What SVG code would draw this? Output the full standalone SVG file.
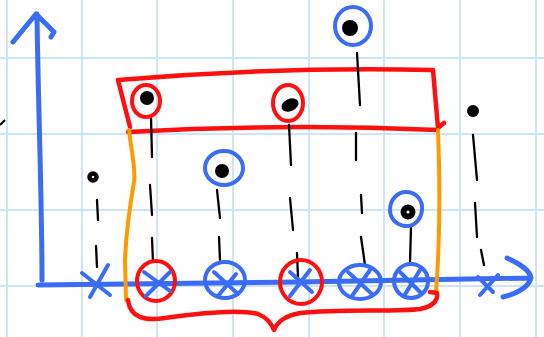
<svg xmlns="http://www.w3.org/2000/svg" width="544" height="337" viewBox="0 0 544 337">
<style>
.grid line{stroke:#cfe5f5;stroke-width:2}
.ax{fill:none;stroke:#3a6cf5;stroke-width:5;stroke-linecap:round;stroke-linejoin:round}
.bc{fill:none;stroke:#3a6cf5;stroke-width:4}
.rc{fill:none;stroke:#ff1010;stroke-width:4}
.bx{stroke:#3a6cf5;stroke-width:4;stroke-linecap:round}
.dot{fill:#000}
.dash{stroke:#000;stroke-width:2.3;stroke-linecap:round;fill:none}
.red{fill:none;stroke:#ff1010;stroke-width:4.5;stroke-linecap:round;stroke-linejoin:round}
.or{fill:none;stroke:#ff9a00;stroke-width:4;stroke-linecap:round}
</style>
<rect width="544" height="337" fill="#fff"/>
<g class="grid">
<line x1="7" y1="0" x2="7" y2="337"/><line x1="82" y1="0" x2="82" y2="337"/><line x1="157" y1="0" x2="157" y2="337"/><line x1="233" y1="0" x2="233" y2="337"/><line x1="309" y1="0" x2="309" y2="337"/><line x1="384" y1="0" x2="384" y2="337"/><line x1="460" y1="0" x2="460" y2="337"/><line x1="536" y1="0" x2="536" y2="337"/>
<line x1="0" y1="58" x2="544" y2="58"/><line x1="0" y1="134" x2="544" y2="134"/><line x1="0" y1="210" x2="544" y2="210"/><line x1="0" y1="286" x2="544" y2="286"/>
</g>
<path d="M0,125 L5,120" stroke="#000" stroke-width="2" fill="none"/>
<g id="axes">
<path class="ax" d="M42,280 C42,200 38,100 37,14 M13,42 L36,14 L54,32 L51,37"/>
<path class="ax" d="M38,285 L300,282 L531,278 M507,258 C520,264 530,270 531,278 C528,288 515,294 503,297"/>
</g>
<g id="group-box">
<path class="red" d="M118,80 C200,73 300,67 433,70 L438,128 L444,123 M438,130 C300,124 200,128 128,132 M118,80 L130,127"/>
<path class="or" d="M129,130 C131,150 136,168 134,182 C130,205 126,235 125,260 L126,300"/>
<path class="or" d="M438,130 C440,180 440,240 436,292"/>
<path class="red" d="M128,300 C130,318 145,321 165,318 C200,313 240,309 258,314 C268,318 272,325 274,330 C278,321 285,316 300,313 C340,309 400,312 420,309 C436,306 438,298 437,293 L430,292"/>
</g>
<g id="connectors">
<path class="dash" d="M97,200 L98,220 M96,246 L97,267"/>
<path class="dash" d="M151,118 L152,157 M150,185 L152,215 M152,238 L153,262"/>
<path class="dash" d="M217,190 L220,218 M219,237 L220,260"/>
<path class="dash" d="M289,125 L291,165 M290,198 L293,230 M297,253 L298,278"/>
<path class="dash" d="M357,53 L360,105 M356,133 L356,160 M361,195 L362,213 M361,237 L365,265"/>
<path class="dash" d="M411,228 L410,262"/>
<path class="dash" d="M473,135 L477,180 M475,203 L477,237 M481,250 L484,265"/>
</g>
<g id="p1"><circle cx="93" cy="177" r="3.5" fill="#fff" stroke="#000" stroke-width="4.5"/><path class="bx" d="M82,273 L110,295 M108,265 L90,297"/></g>
<g id="p2"><ellipse class="rc" cx="146" cy="101" rx="14" ry="16"/><circle class="dot" cx="147" cy="98" r="7"/><ellipse class="rc" cx="156" cy="281" rx="19" ry="20"/><path class="bx" d="M144,272 L170,291 M170,272 L146,296"/></g>
<g id="p3"><ellipse class="bc" cx="224" cy="168" rx="19" ry="17"/><circle class="dot" cx="222" cy="171" r="7"/><ellipse class="bc" cx="225" cy="280" rx="20" ry="18"/><path class="bx" d="M214,272 L238,294 M236,274 L218,296"/></g>
<g id="p4"><ellipse class="rc" cx="288" cy="103" rx="15" ry="18"/><ellipse class="dot" cx="290" cy="105" rx="9" ry="6" transform="rotate(-25 290 105)"/><ellipse class="rc" cx="301" cy="282" rx="21" ry="22"/><path class="bx" d="M290,272 L312,292 M310,270 L290,296"/></g>
<g id="p5"><ellipse class="bc" cx="353" cy="26" rx="18" ry="19"/><circle class="dot" cx="350" cy="28" r="8"/><ellipse class="bc" cx="360" cy="282" rx="21" ry="17"/><path class="bx" d="M348,272 L372,294 M370,270 L352,296"/></g>
<g id="p6"><path class="bc" d="M406,192 C416,192 423,200 422,210 C421,220 414,227 405,226 C396,225 390,218 390,210 C390,199 398,192 406,192 Z"/><circle cx="408" cy="212" r="4.5" fill="#fff" stroke="#000" stroke-width="6"/><ellipse class="bc" cx="411" cy="281" rx="17" ry="17"/><path class="bx" d="M400,272 L420,292 M420,270 L404,296"/></g>
<g id="p7"><circle class="dot" cx="473" cy="111" r="6"/><path class="bx" d="M478,277 L493,292 M498,275 L480,295"/></g>
</svg>
